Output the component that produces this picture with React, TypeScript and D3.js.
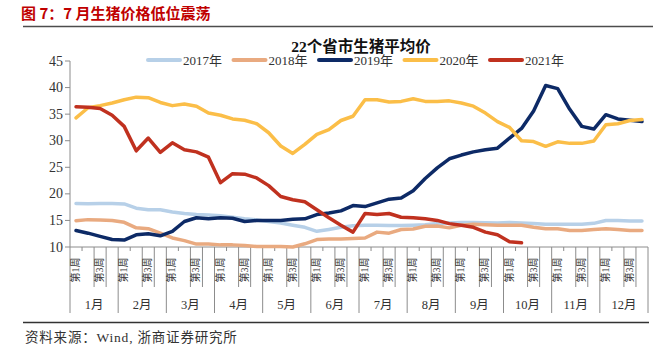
import React from 'react';
import * as d3 from 'd3';

const months = ['1月', '2月', '3月', '4月', '5月', '6月', '7月', '8月', '9月', '10月', '11月', '12月'];
const weeks = ['第1周', '第2周', '第3周', '第4周'];
const yTicks = [10, 15, 20, 25, 30, 35, 40, 45];

const s2017 = [18.2, 18.15, 18.2, 18.2, 18.1, 17.3, 17.0, 17.0, 16.6, 16.3, 16.1, 16.0,
  15.9, 15.6, 15.3, 15.1, 14.8, 14.5, 14.1, 13.7, 12.95, 13.3, 13.7, 14.0,
  14.1, 14.1, 14.05, 14.05, 14.1, 14.2, 14.4, 14.5, 14.6, 14.6, 14.55, 14.5,
  14.6, 14.5, 14.4, 14.3, 14.3, 14.3, 14.3, 14.45, 15.0, 15.0, 14.9, 14.9];
const s2018 = [14.96, 15.15, 15.1, 15.0, 14.65, 13.6, 13.45, 12.6, 11.7, 11.2, 10.55, 10.55,
  10.4, 10.4, 10.3, 10.1, 10.1, 10.1, 10.0, 10.6, 11.4, 11.5, 11.5, 11.6,
  11.7, 12.8, 12.6, 13.3, 13.4, 13.9, 13.95, 13.6, 14.1, 14.3, 14.2, 14.1,
  14.1, 14.1, 13.7, 13.45, 13.45, 13.1, 13.1, 13.3, 13.45, 13.3, 13.1, 13.1];
const s2019 = [13.1, 12.6, 12.0, 11.4, 11.3, 12.3, 12.5, 12.1, 12.95, 14.8, 15.5, 15.3,
  15.5, 15.4, 14.8, 15.0, 15.0, 15.0, 15.2, 15.3, 16.1, 16.4, 16.8, 17.8,
  17.6, 18.3, 19.0, 19.2, 20.6, 22.9, 24.9, 26.6, 27.3, 27.9, 28.3, 28.6,
  30.5, 32.3, 35.6, 40.4, 39.8, 35.9, 32.7, 32.2, 34.9, 34.1, 33.85, 33.6];
const s2020 = [34.3, 36.2, 36.6, 37.1, 37.7, 38.2, 38.1, 37.2, 36.6, 36.9, 36.5, 35.2,
  34.8, 34.1, 33.85, 33.2, 31.5, 29.0, 27.6, 29.3, 31.2, 32.1, 33.8, 34.6,
  37.7, 37.7, 37.3, 37.4, 37.9, 37.4, 37.4, 37.5, 37.1, 36.5, 35.2, 33.6,
  32.5, 30.0, 29.85, 28.95, 29.8, 29.5, 29.5, 29.95, 33.0, 33.2, 33.8, 34.0];
const s2021 = [36.4, 36.3, 36.05, 34.8, 32.7, 28.1, 30.5, 27.8, 29.6, 28.3, 27.9, 26.9,
  22.1, 23.8, 23.7, 23.0, 21.55, 19.5, 18.9, 18.5, 17.0, 15.5, 14.1, 12.8,
  16.3, 16.1, 16.3, 15.6, 15.5, 15.3, 15.0, 14.4, 14.1, 13.7, 12.8, 12.3,
  11.0, 10.8];

const seriesNames = ['2017年', '2018年', '2019年', '2020年', '2021年'];
const seriesColors = ['#B7D0E8', '#E9AA80', '#0D2A66', '#FBBE48', '#C0311F'];
const seriesData = [s2017, s2018, s2019, s2020, s2021];

const serif = "'Liberation Serif', 'Times New Roman', 'Noto Sans CJK SC', serif";
const cjk = "'Noto Sans CJK SC', sans-serif";

export default function App() {
  const W = 669, H = 360;
  const left = 70, right = 648, top = 61, bottom = 247;
  const cats = d3.range(months.length * weeks.length);
  const x = d3.scaleBand<number>().domain(cats).range([left, right]).padding(0);
  const y = d3.scaleLinear().domain([10, 45]).range([bottom, top]);
  const line = d3.line<number>().x((_, i) => (x(i) as number) + x.bandwidth() / 2).y((d) => y(d));
  const bw = x.bandwidth();
  const axisColor = '#8c8c8c';

  return (
    <svg width={W} height={H} style={{ position: 'absolute', left: 0, top: 0, background: '#fff' }}>
      <text x={21} y={19} fill="#C00000" fontSize={15} fontWeight="bold" fontFamily={cjk}>图 7：7 月生猪价格低位震荡</text>
      <line x1={23} x2={653} y1={26.5} y2={26.5} stroke="#4d4d4d" strokeWidth={1.5} />
      <text x={361} y={51.5} textAnchor="middle" fontSize={15.5} fontWeight="bold" fontFamily={serif} fill="#111">22个省市生猪平均价</text>

      {seriesNames.map((n, k) => {
        const lx = 148 + k * 85.5;
        return (
          <g key={n}>
            <line x1={lx} x2={lx + 32} y1={60} y2={60} stroke={seriesColors[k]} strokeWidth={4} strokeLinecap="round" />
            <text x={lx + 35} y={65} fontSize={13} fontFamily={serif} fill="#333">{n}</text>
          </g>
        );
      })}

      {/* y axis */}
      <line x1={left} x2={left} y1={top} y2={bottom} stroke={axisColor} strokeWidth={1} />
      {yTicks.map((t) => (
        <g key={t}>
          <line x1={left - 5} x2={left} y1={y(t)} y2={y(t)} stroke={axisColor} />
          <text x={63} y={y(t) + 4.5} textAnchor="end" fontSize={14} fontFamily={serif} fill="#333">{t}</text>
        </g>
      ))}

      {/* x axis */}
      <line x1={left} x2={right} y1={bottom} y2={bottom} stroke={axisColor} strokeWidth={1} />
      {d3.range(cats.length + 1).map((i) => {
        const xx = left + i * bw;
        const len = i % 4 === 0 ? 66 : i % 4 === 1 ? 4 : 40;
        return <line key={'t' + i} x1={xx} x2={xx} y1={bottom} y2={bottom + len} stroke={axisColor} strokeWidth={1} />;
      })}
      {cats.filter((i) => i % 2 === 0).map((i) => {
        const cx = (x(i) as number) + bw / 2 - 0.5;
        return (
          <text key={'w' + i} transform={`translate(${cx},${270}) rotate(-90)`} textAnchor="middle" dominantBaseline="central" fontSize={10} fontFamily={serif} fill="#333">
            {weeks[i % 4]}
          </text>
        );
      })}
      {months.map((m, k) => (
        <text key={m} x={left + (k + 0.5) * bw * 4} y={309} textAnchor="middle" fontSize={12.5} fontFamily={serif} fill="#333">{m}</text>
      ))}

      {/* series */}
      {seriesData.map((d, k) => (
        <path key={k} d={line(d) as string} fill="none" stroke={seriesColors[k]} strokeWidth={3.5} strokeLinejoin="round" strokeLinecap="round" />
      ))}

      <line x1={23} x2={649} y1={322.5} y2={322.5} stroke="#333" strokeWidth={1.5} />
      <text x={25} y={342} fontSize={13.5} letterSpacing={0.8} fontFamily={serif} fill="#333">资料来源：Wind, 浙商证券研究所</text>
    </svg>
  );
}
